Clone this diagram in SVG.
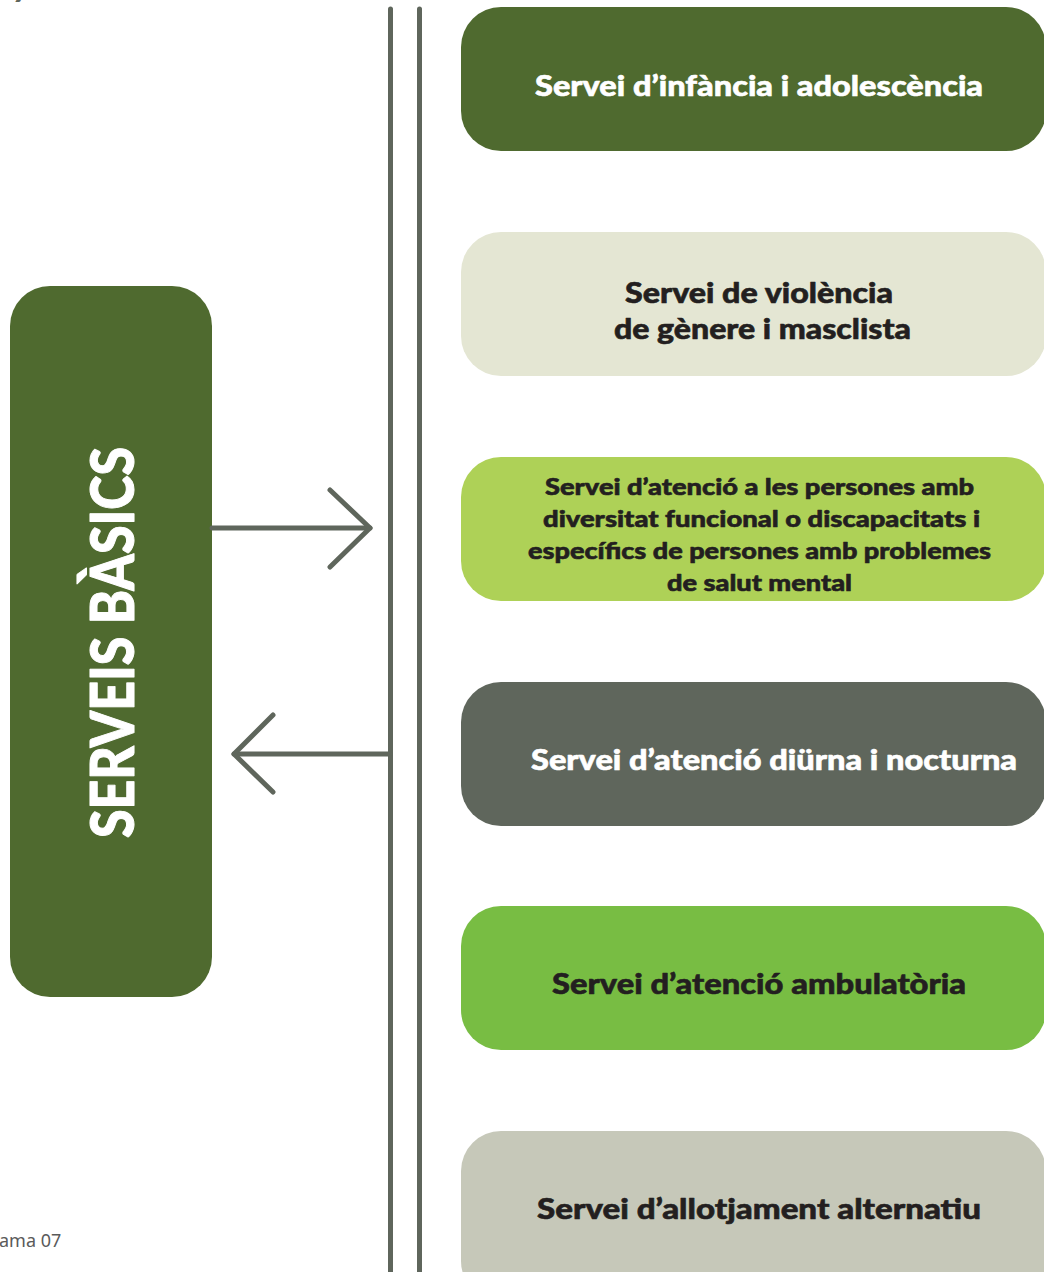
<svg xmlns="http://www.w3.org/2000/svg" width="1044" height="1272" viewBox="0 0 1044 1272">
  <defs>
    <style>
      .box { stroke: none; }
      .lbl { font-family: Lato, "Liberation Sans", sans-serif; font-weight: 900; font-size: 28px; fill: #231f20; stroke: #231f20; stroke-width: 0.6px; stroke-linejoin: round; }
      .lbl.sm { font-size: 22.5px; }
      .lbl.light { fill: #ffffff; stroke: #ffffff; }
      .lbl.big { font-size: 60px; stroke-width: 1px; }
      .rail { stroke: #5f665c; stroke-width: 5; stroke-linecap: round; fill: none; }
      .arrow { stroke: #5f665c; stroke-width: 5; stroke-linecap: round; stroke-linejoin: round; fill: none; }
      .note { font-family: "Source Sans Pro", "Noto Sans", "Liberation Sans", sans-serif; font-size: 18px; fill: #5a5a5a; }
    </style>
  </defs>

  <rect width="1044" height="1272" fill="#ffffff"/>

  <!-- title fragment at the top edge -->
  <text x="14" y="-4" font-family="Lato, 'Liberation Sans', sans-serif" font-weight="900" font-style="italic" font-size="34" fill="#5f665c">y</text>

  <!-- caption fragment -->
  <text class="note" x="-1" y="1247">ama 07</text>

  <!-- main block -->
  <g id="serveis-basics">
    <rect class="box" x="10" y="286" width="202" height="711" rx="40" ry="40" fill="#4f6a2f"/>
    <text class="lbl light big" transform="translate(134 838) rotate(-90)" x="0" y="0" textLength="391" lengthAdjust="spacingAndGlyphs">SERVEIS BÀSICS</text>
  </g>

  <!-- rails and arrows -->
  <g id="connectors">
    <line class="rail" x1="390.5" y1="9" x2="390.5" y2="1290"/>
    <line class="rail" x1="419.5" y1="9" x2="419.5" y2="1290"/>
    <!-- outgoing -->
    <line class="arrow" x1="212" y1="528" x2="370" y2="528" stroke-linecap="butt"/>
    <polyline class="arrow" points="330,490 370,528 330,567"/>
    <!-- returning -->
    <line class="arrow" x1="390" y1="754" x2="234" y2="754" stroke-linecap="butt"/>
    <polyline class="arrow" points="273,715 234,754 273,792"/>
  </g>

  <g id="infancia">
    <rect class="box" x="461" y="7" width="585" height="144" rx="40" ry="40" fill="#4f6a2f"/>
    <text class="lbl light" x="535" y="96" textLength="448" lengthAdjust="spacingAndGlyphs">Servei d’infància i adolescència</text>
  </g>

  <g id="violencia">
    <rect class="box" x="461" y="232" width="585" height="144" rx="40" ry="40" fill="#e4e6d3"/>
    <text class="lbl" x="625" y="303" textLength="268" lengthAdjust="spacingAndGlyphs">Servei de violència</text>
    <text class="lbl" x="614" y="339" textLength="297" lengthAdjust="spacingAndGlyphs">de gènere i masclista</text>
  </g>

  <g id="diversitat">
    <rect class="box" x="461" y="457" width="585" height="144" rx="40" ry="40" fill="#aed157"/>
    <text class="lbl sm" x="545" y="495" textLength="429" lengthAdjust="spacingAndGlyphs">Servei d’atenció  a les persones amb</text>
    <text class="lbl sm" x="543" y="527" textLength="437" lengthAdjust="spacingAndGlyphs">diversitat  funcional o discapacitats i</text>
    <text class="lbl sm" x="528" y="559" textLength="463" lengthAdjust="spacingAndGlyphs">específics de  persones amb problemes</text>
    <text class="lbl sm" x="667" y="591" textLength="185" lengthAdjust="spacingAndGlyphs">de salut mental</text>
  </g>

  <g id="diurna">
    <rect class="box" x="461" y="682" width="585" height="144" rx="40" ry="40" fill="#5f665c"/>
    <text class="lbl light" x="531" y="770" textLength="486" lengthAdjust="spacingAndGlyphs">Servei d’atenció diürna i nocturna</text>
  </g>

  <g id="ambulatoria">
    <rect class="box" x="461" y="906" width="585" height="144" rx="40" ry="40" fill="#78bd43"/>
    <text class="lbl" x="552" y="994" textLength="414" lengthAdjust="spacingAndGlyphs">Servei d’atenció ambulatòria</text>
  </g>

  <g id="allotjament">
    <rect class="box" x="461" y="1131" width="585" height="170" rx="40" ry="40" fill="#c6c8b9"/>
    <text class="lbl" x="537" y="1219" textLength="444" lengthAdjust="spacingAndGlyphs">Servei d’allotjament alternatiu</text>
  </g>
</svg>
